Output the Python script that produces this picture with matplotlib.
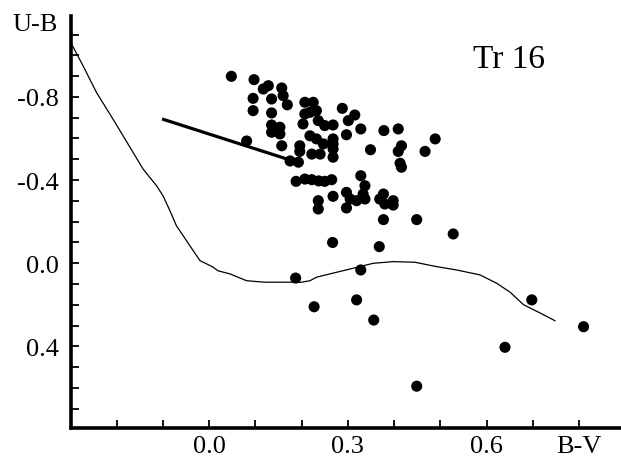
import numpy as np
import matplotlib.pyplot as plt

plt.rcParams['font.family'] = ['Liberation Serif', 'DejaVu Serif']

# intrinsic two-colour relation for main-sequence stars
curve_bv = [-0.299, -0.294, -0.273, -0.244, -0.204, -0.169, -0.143, -0.114,
            -0.100, -0.085, -0.071, -0.042, -0.020, 0.008, 0.019, 0.045, 0.081,
            0.121, 0.181, 0.200, 0.218, 0.232, 0.276, 0.326, 0.355, 0.398, 0.445,
            0.492, 0.535, 0.586, 0.622, 0.651, 0.680, 0.716, 0.748]
curve_ub = [-1.054, -1.038, -0.950, -0.822, -0.678, -0.549, -0.453, -0.373,
            -0.325, -0.253, -0.181, -0.085, -0.013, 0.018, 0.036, 0.051, 0.084,
            0.091, 0.091, 0.091, 0.084, 0.067, 0.043, 0.016, 0.000, -0.008, -0.005,
            0.016, 0.032, 0.056, 0.096, 0.139, 0.199, 0.239, 0.276]

# reddening vector
redd_bv = [-0.102, 0.201]
redd_ub = [-0.694, -0.478]

# Tr 16 members
star_bv = [0.048, 0.097, 0.117, 0.128, 0.157, 0.160, 0.095, 0.135, 0.169, 0.095,
           0.135, 0.207, 0.225, 0.218, 0.232, 0.207, 0.236, 0.203, 0.288, 0.301,
           0.315, 0.268, 0.250, 0.328, 0.297, 0.268, 0.268, 0.218, 0.232, 0.247,
           0.135, 0.135, 0.153, 0.153, 0.157, 0.196, 0.196, 0.222, 0.240, 0.268,
           0.378, 0.409, 0.489, 0.349, 0.416, 0.409, 0.467, 0.413, 0.416, 0.081,
           0.175, 0.193, 0.188, 0.207, 0.222, 0.237, 0.250, 0.265, 0.328, 0.337,
           0.333, 0.337, 0.297, 0.305, 0.319, 0.268, 0.297, 0.377, 0.369, 0.380,
           0.398, 0.398, 0.236, 0.236, 0.377, 0.449, 0.528, 0.267, 0.368, 0.187,
           0.328, 0.227, 0.319, 0.356, 0.698, 0.810, 0.640, 0.449, 0.268]
star_ub = [-0.899, -0.883, -0.838, -0.854, -0.843, -0.806, -0.793, -0.790, -0.762, -0.734,
           -0.723, -0.774, -0.774, -0.726, -0.734, -0.718, -0.686, -0.670, -0.745, -0.686,
           -0.713, -0.665, -0.662, -0.646, -0.618, -0.598, -0.574, -0.613, -0.598, -0.574,
           -0.665, -0.630, -0.654, -0.622, -0.565, -0.565, -0.538, -0.525, -0.525, -0.510,
           -0.638, -0.646, -0.598, -0.546, -0.565, -0.538, -0.538, -0.481, -0.462, -0.588,
           -0.492, -0.486, -0.394, -0.405, -0.402, -0.396, -0.394, -0.402, -0.421, -0.373,
           -0.333, -0.309, -0.341, -0.309, -0.301, -0.322, -0.266, -0.333, -0.309, -0.285,
           -0.301, -0.280, -0.301, -0.261, -0.210, -0.210, -0.141, -0.100, -0.080, 0.071,
           0.032, 0.209, 0.176, 0.273, 0.176, 0.305, 0.404, 0.591, -0.550]

x_ticks = np.round(np.arange(-0.2, 0.81, 0.1), 1)
x_labels = ['', '', '0.0', '', '', '0.3', '', '', '0.6', '', 'B-V']
y_ticks = np.round(np.arange(-1.1, 0.71, 0.1), 1)
y_labels = ['', '', '', '-0.8', '', '', '', '-0.4', '', '', '', '0.0', '', '', '', '0.4', '', '', '']

fig = plt.figure(figsize=(6.21, 4.60), dpi=100)
ax = fig.add_axes([71 / 621, 31 / 460, 550 / 621, 412 / 460])

ax.plot(curve_bv, curve_ub, color='black', lw=0.9)
ax.plot(redd_bv, redd_ub, color='black', lw=2.3, solid_capstyle='butt')
ax.scatter(star_bv, star_ub, s=64, color='black', edgecolors='none', zorder=3)

ax.set_xlim(-0.299, 0.891)
ax.set_ylim(0.792, -1.189)

ax.set_xticks(x_ticks)
ax.set_xticklabels(x_labels)
ax.set_yticks(y_ticks)
ax.set_yticklabels(y_labels)
ax.tick_params(direction='in', length=6, width=1.3, labelsize=19, color='black')
ax.tick_params(axis='x', pad=5)
ax.tick_params(axis='y', pad=9)

for side in ['top', 'right']:
    ax.spines[side].set_visible(False)
for side in ['left', 'bottom']:
    ax.spines[side].set_linewidth(2.6)

fig.text(35 / 621, 1 - 25 / 460, 'U-B', ha='center', va='center', fontsize=19)
fig.text(473 / 621, 1 - 68 / 460, 'Tr 16', ha='left', va='baseline', fontsize=24)

fig.savefig('out.png', dpi=100)
